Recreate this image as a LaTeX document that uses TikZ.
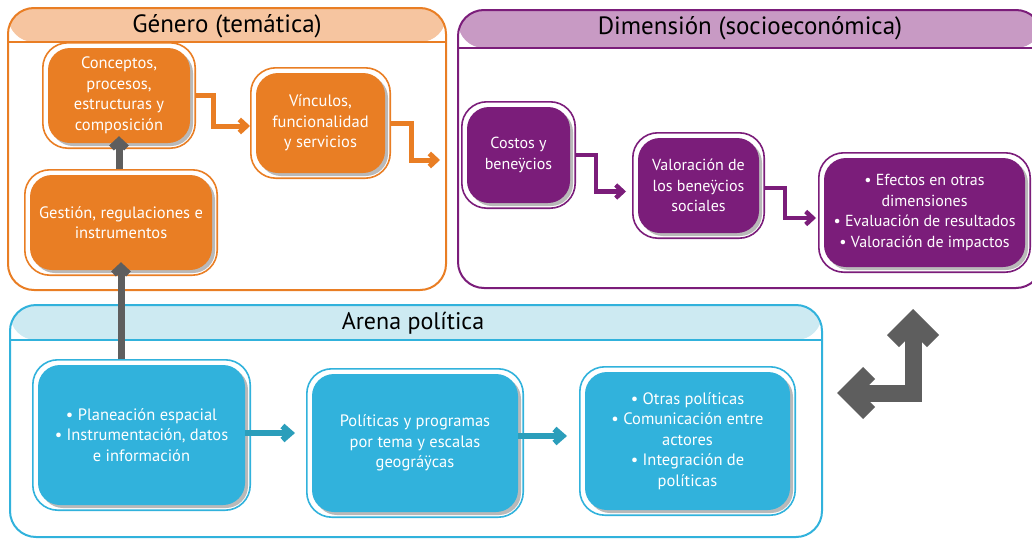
\documentclass[tikz,border=0pt]{standalone}
\usepackage{fontspec}
\setmainfont{PT Sans}
\usepackage{tikz}
\usetikzlibrary{positioning,arrows.meta,shadows,fit}
\usepackage{xcolor}

\definecolor{genorange}{HTML}{E97E24}
\definecolor{genlight}{HTML}{F6C5A0}
\definecolor{dimpurple}{HTML}{7B1D7A}
\definecolor{dimlight}{HTML}{C89AC4}
\definecolor{areblue}{HTML}{31B2DC}
\definecolor{arelight}{HTML}{CDEAF2}
\definecolor{arrowblue}{HTML}{2B9EBB}
\definecolor{arrowgray}{HTML}{5E5E5E}

\begin{document}
\begin{tikzpicture}[
    x=1pt, y=-1pt,
    panel/.style n args={3}{
        rectangle,
        draw=#1,
        line width=2pt,
        rounded corners=26pt,
        path picture={
            \fill[#2] (path picture bounding box.north west) rectangle ([yshift=-#3]path picture bounding box.north east);
            \draw[#1,line width=2pt] ([yshift=-#3]path picture bounding box.north west) -- ([yshift=-#3]path picture bounding box.north east);
        }
    },
    title/.style={
        font=\fontsize{25}{29}\selectfont,
        text=black
    },
    ibox/.style={
        rectangle,
        rounded corners=22pt,
        align=center,
        text=white,
        font=\fontsize{16.5}{20.5}\selectfont,
        inner sep=2pt,
        drop shadow={shadow xshift=3pt, shadow yshift=-3pt, fill=black!50, opacity=.55}
    },
    frame/.style={
        rectangle,
        rounded corners=25pt,
        line width=1.6pt,
        inner sep=5pt
    },
    garrow/.style={
        -{Straight Barb[length=7pt,width=15pt]},
        line width=7pt,
        arrowgray
    },
    oarrow/.style={
        -{Straight Barb[length=7pt,width=13pt]},
        line width=5pt,
        genorange
    },
    parrow/.style={
        -{Straight Barb[length=7pt,width=13pt]},
        line width=4.5pt,
        dimpurple
    },
    barrow/.style={
        -{Straight Barb[length=8pt,width=14pt]},
        line width=6pt,
        arrowblue
    },
    bigarrow/.style={
        {Straight Barb[length=20pt,width=40pt]}-{Straight Barb[length=20pt,width=40pt]},
        line width=17pt,
        line join=miter,
        arrowgray
    }
]
\useasboundingbox (0,0) rectangle (1032,538);

% panels
\node[panel={genorange}{genlight}{34pt},minimum width=438pt,minimum height=282pt] (gen) at (227,149) {};
\node[panel={dimpurple}{dimlight}{38pt},minimum width=584pt,minimum height=278pt] (dim) at (750,149) {};
\node[panel={areblue}{arelight}{35pt},minimum width=812pt,minimum height=232pt] (are) at (416,421) {};

\node[title] (gent) at (227,26) {Género (temática)};
\node[title] (dimt) at (750,28) {Dimensión (socioeconómica)};
\node[title,font=\fontsize{24}{28}\selectfont] (aret) at (413,323) {Arena política};

% genero
\node[ibox,fill=genorange,minimum width=142pt,minimum height=95pt] (con) at (119,95.5) {Conceptos,\\procesos,\\estructuras y\\composición};
\node[ibox,fill=genorange,minimum width=129pt,minimum height=100pt] (vin) at (320.5,123) {Vínculos,\\funcionalidad\\y servicios};
\node[ibox,fill=genorange,minimum width=182pt,minimum height=95pt] (ges) at (121,222.5) {Gestión, regulaciones e\\instrumentos};
\node[frame,draw=genorange,fit=(con)] (conF) {};
\node[frame,draw=genorange,fit=(vin)] (vinF) {};
\node[frame,draw=genorange,fit=(ges)] (gesF) {};

% dimension
\node[ibox,fill=dimpurple,font=\fontsize{16}{20.5}\selectfont,minimum width=103pt,minimum height=96pt] (cos) at (518.5,155) {Costos y\\beneÿcios};
\node[ibox,fill=dimpurple,font=\fontsize{16}{20.5}\selectfont,minimum width=121pt,minimum height=95pt] (val) at (698.5,185.5) {Valoración de\\los beneÿcios\\sociales};
\node[ibox,fill=dimpurple,font=\fontsize{16}{20.5}\selectfont,minimum width=201pt,minimum height=109pt] (efe) at (924.5,212.5) {• Efectos en otras\\dimensiones\\• Evaluación de resultados\\• Valoración de impactos};
\node[frame,draw=dimpurple,fit=(cos)] (cosF) {};
\node[frame,draw=dimpurple,fit=(val)] (valF) {};
\node[frame,draw=dimpurple,fit=(efe)] (efeF) {};

% arena
\node[ibox,fill=areblue,minimum width=207pt,minimum height=140pt] (pla) at (141.5,435) {• Planeación espacial\\• Instrumentación, datos\\e información};
\node[ibox,fill=areblue,minimum width=206pt,minimum height=138pt] (pol) at (415,443) {Políticas y programas\\por tema y escalas\\geográÿcas};
\node[ibox,fill=areblue,minimum width=205pt,minimum height=138pt] (otr) at (687.5,441) {• Otras políticas\\• Comunicación entre\\actores\\• Integración de\\políticas};
\node[frame,draw=areblue,fit=(pla)] (plaF) {};
\node[frame,draw=areblue,fit=(pol)] (polF) {};
\node[frame,draw=areblue,fit=(otr)] (otrF) {};

% connectors
\coordinate (genout) at (440,160);
\coordinate (dblU) at (913,309);
\coordinate (dblL) at (837,393);

\draw[garrow] (gesF.north -| con.south) -- ([yshift=7pt]con.south -| con.south);
\draw[garrow] (plaF.north -| ges.south) -- ([yshift=8pt]ges.south);
\draw[oarrow] (conF.east) -- ++(17,0) |- ([yshift=-3pt]vinF.west);
\draw[oarrow] (vinF.east) -- ++(20,0) |- (genout);
\draw[parrow] (cosF.east) -- ++(20,0) |- ([xshift=-6pt,yshift=-6pt]valF.west);
\draw[parrow] ([yshift=-2.5pt]valF.east) -- ++(20,0) |- ([xshift=-2pt,yshift=-5.5pt]efeF.west);
\draw[barrow] ([yshift=2pt]pla.east) -- ([yshift=2pt,xshift=-11pt]pla.east -| polF.west);
\draw[barrow] ([yshift=7pt]pol.east) -- ([yshift=7pt,xshift=-12pt]pol.east -| otrF.west);
\draw[bigarrow] (dblU) |- (dblL);

\end{tikzpicture}
\end{document}
